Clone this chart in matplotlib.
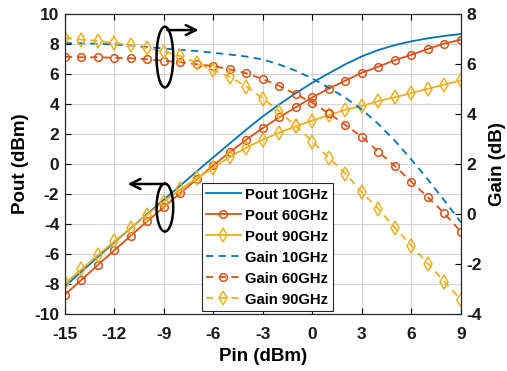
import matplotlib
matplotlib.use("Agg")
import matplotlib.pyplot as plt
from matplotlib.patches import Ellipse

plt.rcParams['font.family'] = ['Liberation Sans', 'DejaVu Sans']
plt.rcParams['font.weight'] = 'bold'

pin = [-15, -14, -13, -12, -11, -10, -9, -8, -7, -6, -5, -4, -3, -2, -1,
       0, 1, 2, 3, 4, 5, 6, 7, 8, 9]

pout_10 = [-8.16, -7.17, -6.19, -5.22, -4.26, -3.32, -2.38, -1.43, -0.48, 0.45,
           1.38, 2.30, 3.18, 3.98, 4.73, 5.42, 6.05, 6.65, 7.18, 7.60,
           7.93, 8.18, 8.38, 8.54, 8.67]
pout_60 = [-8.71, -7.73, -6.73, -5.75, -4.77, -3.81, -2.87, -1.93, -1.01, -0.08,
           0.79, 1.63, 2.40, 3.12, 3.79, 4.45, 5.03, 5.56, 6.09, 6.49,
           6.92, 7.29, 7.67, 8.03, 8.29]
pout_90 = [-7.95, -7.03, -6.07, -5.16, -4.25, -3.37, -2.50, -1.68, -0.95, -0.25,
           0.48, 1.10, 1.62, 2.10, 2.52, 2.90, 3.25, 3.62, 3.87, 4.20,
           4.45, 4.73, 5.02, 5.30, 5.57]

gain_10 = [6.84, 6.83, 6.81, 6.78, 6.74, 6.68, 6.62, 6.57, 6.52, 6.45,
           6.38, 6.30, 6.18, 5.98, 5.73, 5.42, 5.05, 4.65, 4.18, 3.60,
           2.93, 2.18, 1.38, 0.54, -0.33]
gain_60 = [6.29, 6.27, 6.27, 6.25, 6.23, 6.19, 6.13, 6.07, 5.99, 5.92,
           5.79, 5.63, 5.40, 5.12, 4.79, 4.45, 4.03, 3.56, 3.09, 2.49,
           1.92, 1.29, 0.67, 0.03, -0.71]
gain_90 = [7.05, 6.97, 6.93, 6.84, 6.75, 6.63, 6.50, 6.32, 6.05, 5.75,
           5.48, 5.10, 4.62, 4.10, 3.52, 2.90, 2.25, 1.62, 0.87, 0.20,
           -0.55, -1.27, -1.98, -2.70, -3.43]

x_ticks = [-15, -12, -9, -6, -3, 0, 3, 6, 9]
y_ticks_left = [-10, -8, -6, -4, -2, 0, 2, 4, 6, 8, 10]
y_ticks_right = [-4, -2, 0, 2, 4, 6, 8]

c_blue = '#0072BD'
c_orange = '#D95319'
c_yellow = '#EDB120'

fig = plt.figure(figsize=(5.07, 3.71), dpi=100)
ax = fig.add_axes([0.128, 0.1536, 0.781, 0.8086])
ax2 = ax.twinx()

lw = 1.3
ms_o = 5.5
ms_d = 7.5
h1, = ax.plot(pin, pout_10, '-', color=c_blue, lw=lw, label='Pout 10GHz')
h2, = ax.plot(pin, pout_60, '-o', color=c_orange, lw=lw, ms=ms_o, mfc='none',
              mew=1.1, label='Pout 60GHz')
h3, = ax.plot(pin, pout_90, '-d', color=c_yellow, lw=lw, ms=ms_d, mfc='none',
              mew=1.1, label='Pout 90GHz')
h4, = ax2.plot(pin, gain_10, '--', color=c_blue, lw=lw, dashes=(4, 3),
               label='Gain 10GHz')
h5, = ax2.plot(pin, gain_60, '--o', color=c_orange, lw=lw, dashes=(4, 3),
               ms=ms_o, mfc='none', mew=1.1, label='Gain 60GHz')
h6, = ax2.plot(pin, gain_90, '--d', color=c_yellow, lw=lw, dashes=(4, 3),
               ms=ms_d, mfc='none', mew=1.1, label='Gain 90GHz')

ax.set_xlim(-15, 9)
ax.set_ylim(-10, 10)
ax2.set_ylim(-4, 8)
ax.set_xticks(x_ticks)
ax.set_xticklabels([str(v) for v in x_ticks])
ax.set_yticks(y_ticks_left)
ax.set_yticklabels([str(v) for v in y_ticks_left])
ax2.set_yticks(y_ticks_right)
ax2.set_yticklabels([str(v) for v in y_ticks_right])

ax.grid(True, color='#d4d4d4', lw=0.8)
ax.set_axisbelow(True)
ax.tick_params(axis='both', direction='in', length=4, labelsize=12.5,
               top=True, pad=4, labelcolor='#1a1a1a')
ax.tick_params(axis='x', pad=9)
ax.tick_params(axis='y', right=False)
ax2.tick_params(axis='y', direction='in', length=4, labelsize=12.5, pad=4,
                labelcolor='#1a1a1a')
for a in (ax, ax2):
    for s in a.spines.values():
        s.set_linewidth(0.8)
        s.set_color('#262626')

ax.set_xlabel('Pin (dBm)', fontsize=13.5, fontweight='bold', labelpad=5)
ax.set_ylabel('Pout (dBm)', fontsize=13.5, fontweight='bold', labelpad=4)
ax2.set_ylabel('Gain (dB)', fontsize=13.5, fontweight='bold', labelpad=5)

leg = ax2.legend(handles=[h1, h2, h3, h4, h5, h6], loc='lower left',
                 bbox_to_anchor=(0.346, 0.01), borderaxespad=0,
                 fontsize=10.7, handlelength=2.3, labelspacing=0.47,
                 handletextpad=0.3, borderpad=0.3, fancybox=False,
                 framealpha=1, edgecolor='#262626')
leg.get_frame().set_linewidth(0.8)

# annotation ellipses and arrows (left-axis data coords)
ax2.set_zorder(ax.zorder + 1)
e1 = Ellipse((-8.94, 7.13), 1.01, 4.05, fill=False, ec='black', lw=1.8,
             transform=ax.transData, zorder=5)
e2 = Ellipse((-8.94, -2.9), 1.01, 3.2, fill=False, ec='black', lw=1.8,
             transform=ax.transData, zorder=5)
ax2.add_patch(e1)
ax2.add_patch(e2)
ax2.annotate('', xy=(-6.9, 8.93), xytext=(-8.8, 8.93),
             xycoords=ax.transData, textcoords=ax.transData,
             arrowprops=dict(arrowstyle='->', lw=1.8, color='black',
                             mutation_scale=18, shrinkA=0, shrinkB=0))
ax2.annotate('', xy=(-11.2, -1.33), xytext=(-8.9, -1.33),
             xycoords=ax.transData, textcoords=ax.transData,
             arrowprops=dict(arrowstyle='->', lw=1.8, color='black',
                             mutation_scale=18, shrinkA=0, shrinkB=0))

fig.savefig('out.png', dpi=100)
